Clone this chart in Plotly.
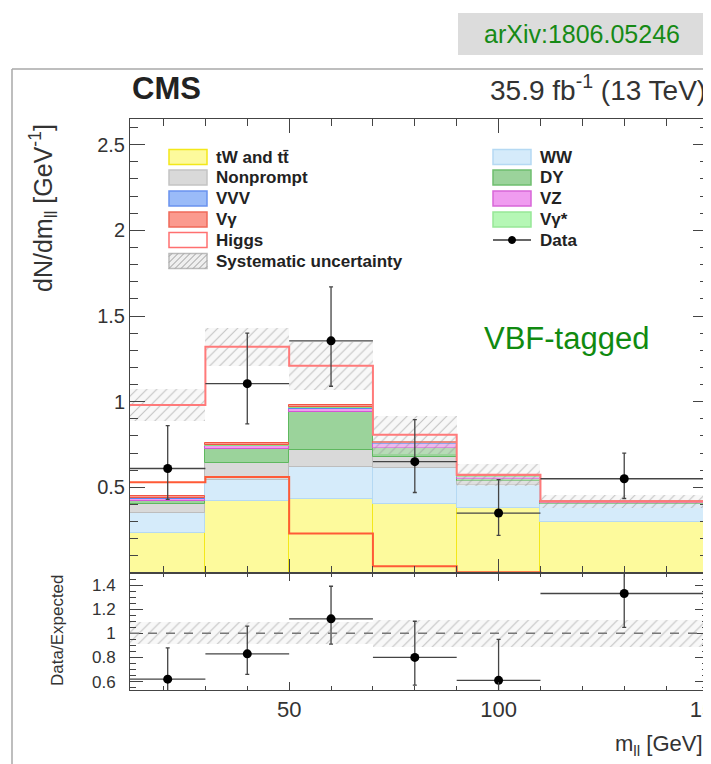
import plotly.graph_objects as go

# ---------------- data ----------------
bin_edges = [12, 30, 50, 70, 90, 110, 150]

tt_tw      = [0.235, 0.42, 0.43, 0.40, 0.377, 0.30]
ww         = [0.115, 0.12, 0.19, 0.21, 0.136, 0.10]
nonprompt  = [0.050, 0.10, 0.10, 0.065, 0.025, 0.005]
dy         = [0.020, 0.085, 0.22, 0.055, 0.010, 0.003]
vz         = [0.012, 0.015, 0.020, 0.025, 0.012, 0.006]
vvv        = [0.003, 0.004, 0.005, 0.003, 0.002, 0.001]
vgstar     = [0.005, 0.004, 0.004, 0.003, 0.002, 0.001]
vg         = [0.010, 0.012, 0.011, 0.006, 0.004, 0.002]
higgs      = [0.53, 0.56, 0.23, 0.04, 0.005, 0.0]
sys_unc    = [0.095, 0.11, 0.14, 0.11, 0.065, 0.04]

data_y      = [0.61, 1.105, 1.355, 0.65, 0.35, 0.55]
data_err_up = [0.25, 0.295, 0.315, 0.245, 0.195, 0.15]
data_err_dn = [0.18, 0.235, 0.265, 0.18, 0.13, 0.115]

ratio_y      = [0.62, 0.83, 1.12, 0.80, 0.61, 1.33]
ratio_err_up = [0.26, 0.23, 0.27, 0.30, 0.34, 0.22]
ratio_err_dn = [0.19, 0.17, 0.21, 0.23, 0.22, 0.28]
ratio_band   = [0.09, 0.09, 0.09, 0.11, 0.11, 0.11]

x_tick_vals = [50, 100, 150]
y_tick_vals = [0.5, 1, 1.5, 2, 2.5]
r_tick_vals = [0.6, 0.8, 1, 1.2, 1.4]
r_tick_text = ["0.6", "0.8", "1", "1.2", "1.4"]

legend_left = ["tW and tt\u0304", "Nonprompt", "VVV", "V\u03b3", "Higgs", "Systematic uncertainty"]
legend_right = ["WW", "DY", "VZ", "V\u03b3*", "Data"]

# stack order bottom -> top: (values, fill, edge)
stack = [
    (tt_tw, "#fdfa9c", "#f3e81a"),
    (ww, "#d5ebfa", "#b5d9f3"),
    (nonprompt, "#d9d9d9", "#bdbdbd"),
    (dy, "#9bd39b", "#5fb85f"),
    (vz, "#f09cf0", "#d455d4"),
    (vvv, "#9abbf8", "#5a86ee"),
    (vgstar, "#b5f7b5", "#86e286"),
    (vg, "#fb9a8e", "#f05545"),
]
FONT = "Liberation Sans, Arial, Helvetica, sans-serif"

centers = [(a + b) / 2 for a, b in zip(bin_edges[:-1], bin_edges[1:])]
widths = [b - a for a, b in zip(bin_edges[:-1], bin_edges[1:])]
halfw = [w / 2 for w in widths]

fig = go.Figure()

base = [0.0] * len(centers)
for vals, fill, edge in stack:
    fig.add_trace(go.Bar(x=centers, y=vals, base=list(base), width=widths,
                         marker=dict(color=fill, line=dict(color=edge, width=1)),
                         opacity=1, showlegend=False, xaxis="x", yaxis="y",
                         hoverinfo="skip"))
    base = [b + v for b, v in zip(base, vals)]
bkg_total = base
total = [b + h for b, h in zip(bkg_total, higgs)]

# Higgs stacked outline
fig.add_trace(go.Scatter(x=bin_edges, y=total + [total[-1]], mode="lines",
                         line=dict(color="#ff7a7a", width=2, shape="hv"),
                         showlegend=False, xaxis="x", yaxis="y", hoverinfo="skip"))
# Higgs alone
fig.add_trace(go.Scatter(x=bin_edges, y=higgs + [higgs[-1]], mode="lines",
                         line=dict(color="#ff5a36", width=2, shape="hv"),
                         showlegend=False, xaxis="x", yaxis="y", hoverinfo="skip"))

# systematic band
fig.add_trace(go.Bar(x=centers, y=[2 * s for s in sys_unc],
                     base=[t - s for t, s in zip(total, sys_unc)], width=widths,
                     marker=dict(color="rgba(235,235,235,0.35)", line=dict(width=0),
                                 pattern=dict(shape="/", fgcolor="#8a8a8a", size=7,
                                              solidity=0.15, fillmode="overlay")),
                     opacity=1, showlegend=False, xaxis="x", yaxis="y", hoverinfo="skip"))

# data
fig.add_trace(go.Scatter(x=centers, y=data_y, mode="markers",
                         marker=dict(color="black", size=9),
                         error_x=dict(type="data", array=halfw, color="#444", thickness=1.3, width=0),
                         error_y=dict(type="data", array=data_err_up, arrayminus=data_err_dn,
                                      color="#444", thickness=1.3, width=2),
                         showlegend=False, xaxis="x", yaxis="y"))

# ratio band
fig.add_trace(go.Bar(x=centers, y=[2 * r for r in ratio_band],
                     base=[1 - r for r in ratio_band], width=widths,
                     marker=dict(color="rgba(235,235,235,0.35)", line=dict(width=0),
                                 pattern=dict(shape="/", fgcolor="#8a8a8a", size=7,
                                              solidity=0.15, fillmode="overlay")),
                     opacity=1, showlegend=False, xaxis="x2", yaxis="y2", hoverinfo="skip"))
fig.add_trace(go.Scatter(x=centers, y=ratio_y, mode="markers",
                         marker=dict(color="black", size=9),
                         error_x=dict(type="data", array=halfw, color="#444", thickness=1.3, width=0),
                         error_y=dict(type="data", array=ratio_err_up, arrayminus=ratio_err_dn,
                                      color="#444", thickness=1.3, width=2),
                         showlegend=False, xaxis="x2", yaxis="y2"))

# ---------------- layout ----------------
# the page body has an 8px margin; all positions below are given in window pixels
OFF = 8
W, H = 711 - OFF, 764 - OFF
ML, MR, MT, MB = 130 - OFF, 3, 119 - OFF, 764 - 690
PW, PH = W - ML - MR, H - MT - MB


def px(x):
    return (x - OFF - ML) / PW


def py(y):
    return (H - MB - (y - OFF)) / PH


split = py(573)
axis_common = dict(showline=True, linecolor="#444", linewidth=1, mirror="allticks",
                   ticks="inside", showgrid=False, zeroline=False, automargin=False,
                   tickfont=dict(family=FONT, color="#333"))

fig.update_layout(
    width=W, height=H, margin=dict(l=ML, r=MR, t=MT, b=MB, autoexpand=False),
    paper_bgcolor="white", plot_bgcolor="white", barmode="overlay", bargap=0,
    showlegend=False,
    xaxis=dict(axis_common, domain=[0, 1], anchor="y", range=[12, 150],
               tickvals=x_tick_vals, showticklabels=False, ticklen=14,
               minor=dict(tickmode="linear", tick0=0, dtick=10, ticks="inside", ticklen=7, tickcolor="#444")),
    yaxis=dict(axis_common, domain=[split, 1], anchor="x", range=[0, 2.65],
               tickvals=y_tick_vals, ticklen=15, tickfont=dict(family=FONT, color="#333", size=20),
               minor=dict(tickmode="linear", tick0=0, dtick=0.1, ticks="inside", ticklen=8, tickcolor="#444")),
    xaxis2=dict(axis_common, domain=[0, 1], anchor="y2", range=[12, 150], matches="x",
                tickvals=x_tick_vals, ticklen=8, ticklabeloverflow="allow",
                tickfont=dict(family=FONT, color="#333", size=22),
                minor=dict(tickmode="linear", tick0=0, dtick=10, ticks="inside", ticklen=4, tickcolor="#444")),
    yaxis2=dict(axis_common, domain=[0, split], anchor="x2", range=[0.53, 1.5],
                tickvals=r_tick_vals, ticktext=r_tick_text, ticklen=13, ticklabelstandoff=10,
                tickfont=dict(family=FONT, color="#333", size=17),
                minor=dict(tickmode="linear", tick0=0, dtick=0.05, ticks="inside", ticklen=6, tickcolor="#444")),
)

shapes = []
annotations = []

# outer frame & arXiv box
shapes.append(dict(type="line", xref="paper", yref="paper", x0=px(12), x1=px(730), y0=py(69), y1=py(69),
                   line=dict(color="#a8a8a8", width=1.5)))
shapes.append(dict(type="line", xref="paper", yref="paper", x0=px(12), x1=px(12), y0=py(69), y1=py(780),
                   line=dict(color="#a8a8a8", width=1.5)))
shapes.append(dict(type="rect", xref="paper", yref="paper", x0=px(458), x1=px(730), y0=py(55), y1=py(13),
                   fillcolor="#dcdcdc", line=dict(width=0), layer="below"))
annotations.append(dict(text="arXiv:1806.05246", xref="paper", yref="paper", x=px(582), y=py(34),
                        xanchor="center", yanchor="middle", showarrow=False,
                        font=dict(family=FONT, size=25, color="#168a16")))

# headers
annotations.append(dict(text="<b>CMS</b>", xref="paper", yref="paper", x=px(130), y=py(89),
                        xanchor="left", yanchor="middle", showarrow=False,
                        font=dict(family=FONT, size=31, color="#222")))
annotations.append(dict(text="35.9 fb<sup>-1</sup> (13 TeV)", xref="paper", yref="paper", x=px(708), y=py(88),
                        xanchor="right", yanchor="middle", showarrow=False,
                        font=dict(family=FONT, size=28, color="#333")))
annotations.append(dict(text="VBF-tagged", xref="paper", yref="paper", x=px(566), y=py(338),
                        xanchor="center", yanchor="middle", showarrow=False,
                        font=dict(family=FONT, size=31, color="#108a10")))

# axis titles
annotations.append(dict(text="dN/dm<sub>ll</sub> [GeV<sup>-1</sup>]", xref="paper", yref="paper",
                        x=px(43), y=py(208), xanchor="center", yanchor="middle", textangle=-90,
                        showarrow=False, font=dict(family=FONT, size=25, color="#333")))
annotations.append(dict(text="Data/Expected", xref="paper", yref="paper",
                        x=px(57), y=py(630), xanchor="center", yanchor="middle", textangle=-90,
                        showarrow=False, font=dict(family=FONT, size=17, color="#333")))
annotations.append(dict(text="m<sub>ll</sub> [GeV]", xref="paper", yref="paper",
                        x=px(705), y=py(745), xanchor="right", yanchor="middle",
                        showarrow=False, font=dict(family=FONT, size=22, color="#333")))

# legend
rows_y = [157, 177.5, 198.5, 219.5, 240, 261]
left_sw = [("#fdfa9c", "#f3e81a"), ("#d9d9d9", "#c4c4c4"), ("#9abbf8", "#6a92ee"),
           ("#fb9a8e", "#f06a5a"), ("white", "#ff7070"), ("#efefef", "#bbbbbb")]
right_sw = [("#d5ebfa", "#b5d9f3"), ("#9bd39b", "#6fbf6f"), ("#f09cf0", "#d866d8"),
            ("#b5f7b5", "#96e896")]
sw_h = 7.5
for i, lab in enumerate(legend_left):
    yc = rows_y[i]
    fc, lc = left_sw[i]
    shapes.append(dict(type="rect", xref="paper", yref="paper", x0=px(169), x1=px(207),
                       y0=py(yc + sw_h), y1=py(yc - sw_h), fillcolor=fc, line=dict(color=lc, width=1.5)))
    annotations.append(dict(text="<b>" + lab + "</b>", xref="paper", yref="paper", x=px(214), y=py(yc),
                            xanchor="left", yanchor="middle", showarrow=False,
                            font=dict(family=FONT, size=17, color="#222")))
# hatch in systematic swatch
yc = rows_y[5]
path = ""
for k in range(-2, 8):
    xa = 169 + k * 6
    x0, y0 = xa, yc + sw_h
    x1, y1 = xa + 15, yc - sw_h
    if x0 < 169:
        y0 = y0 - (169 - x0); x0 = 169
    if x1 > 207:
        y1 = y1 + (x1 - 207); x1 = 207
    if x0 >= x1:
        continue
    path += f"M {px(x0)} {py(y0)} L {px(x1)} {py(y1)} "
shapes.append(dict(type="path", xref="paper", yref="paper", path=path, line=dict(color="#9a9a9a", width=1)))

for i, lab in enumerate(legend_right):
    yc = rows_y[i]
    if i < 4:
        fc, lc = right_sw[i]
        shapes.append(dict(type="rect", xref="paper", yref="paper", x0=px(493), x1=px(531),
                           y0=py(yc + sw_h), y1=py(yc - sw_h), fillcolor=fc, line=dict(color=lc, width=1.5)))
    else:
        shapes.append(dict(type="line", xref="paper", yref="paper", x0=px(493), x1=px(531),
                           y0=py(yc), y1=py(yc), line=dict(color="#333", width=1.5)))
        shapes.append(dict(type="circle", xref="paper", yref="paper", x0=px(508.5), x1=px(515.5),
                           y0=py(yc + 3.5), y1=py(yc - 3.5), fillcolor="black", line=dict(color="black", width=1)))
    annotations.append(dict(text="<b>" + lab + "</b>", xref="paper", yref="paper", x=px(538), y=py(yc),
                            xanchor="left", yanchor="middle", showarrow=False,
                            font=dict(family=FONT, size=17, color="#222")))

# ratio reference line
shapes.append(dict(type="line", xref="x2 domain", yref="y2", x0=0, x1=1, y0=1, y1=1,
                   line=dict(color="#777", width=1.5, dash="dash")))

fig.update_layout(shapes=shapes, annotations=annotations)
fig.write_html("out.html")
